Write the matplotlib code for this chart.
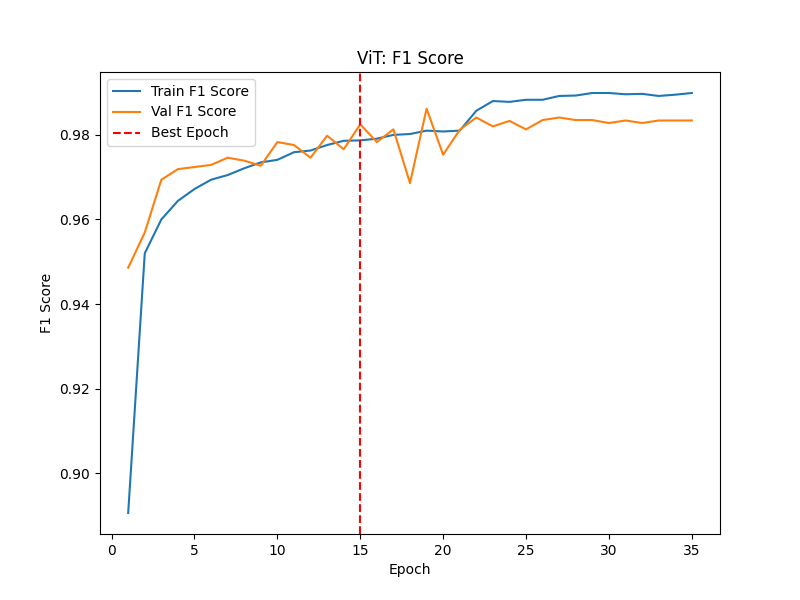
import matplotlib
matplotlib.use("Agg")
import matplotlib.pyplot as plt

epochs = list(range(1, 36))
train_f1 = [0.8906, 0.9520, 0.9600, 0.9644, 0.9672, 0.9694, 0.9705, 0.9721, 0.9735, 0.9741,
            0.9759, 0.9763, 0.9776, 0.9786, 0.9787, 0.9791, 0.9800, 0.9802, 0.9810, 0.9808,
            0.9810, 0.9857, 0.9880, 0.9878, 0.9883, 0.9883, 0.9892, 0.9893, 0.9899, 0.9899,
            0.9896, 0.9897, 0.9892, 0.9895, 0.9899]
val_f1 = [0.9486, 0.9569, 0.9694, 0.9719, 0.9724, 0.9729, 0.9746, 0.9739, 0.9727, 0.9783,
          0.9776, 0.9746, 0.9798, 0.9766, 0.9825, 0.9783, 0.9813, 0.9686, 0.9862, 0.9753,
          0.9812, 0.9841, 0.9820, 0.9833, 0.9813, 0.9835, 0.9841, 0.9835, 0.9835, 0.9828,
          0.9834, 0.9828, 0.9834, 0.9834, 0.9834]
best_epoch = 15

plt.figure(figsize=(8, 6), dpi=100)
plt.plot(epochs, train_f1, label='Train F1 Score')
plt.plot(epochs, val_f1, label='Val F1 Score')
plt.axvline(best_epoch, color='r', linestyle='--', label='Best Epoch')
plt.title('ViT: F1 Score')
plt.xlabel('Epoch')
plt.ylabel('F1 Score')
plt.legend()
plt.savefig('out.png')
